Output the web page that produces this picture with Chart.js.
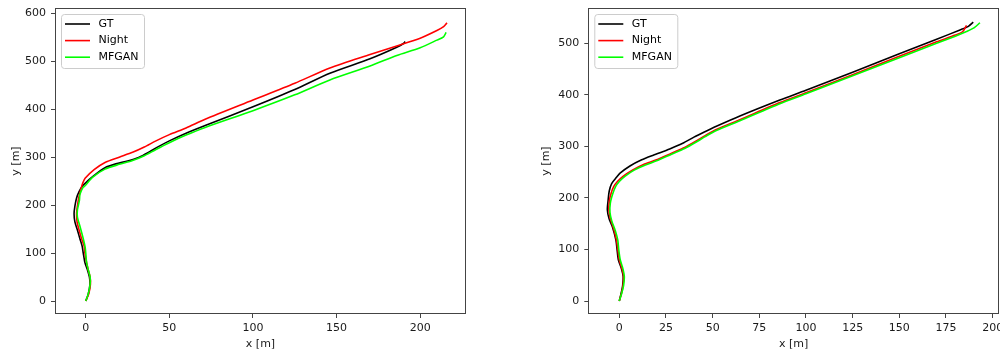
<!DOCTYPE html>
<html>
<head>
<meta charset="utf-8">
<script src="https://cdn.jsdelivr.net/npm/chart.js@4/dist/chart.umd.min.js"></script>
<style>
  body { margin: 0; background: #fff; }
  canvas { position: absolute; top: 0; }
  #left { left: 0; }
  #right { left: 500px; }
</style>
</head>
<body>
<canvas id="left" width="500" height="354"></canvas>
<canvas id="right" width="500" height="354"></canvas>
<script>
// trajectory data [x, y] in metres
var seriesNames = ["GT", "Night", "MFGAN"];
var seriesColors = ["#000000", "#ff0000", "#00ff00"];

var leftGT = [[0,0],[1.5,15],[2.5,35],[2.2,50],[1,65],[-0.5,80],[-1.5,100],[-2.2,115],[-3.5,130],[-5,148],[-6.5,165],[-7,182],[-6.5,198],[-5.5,215],[-4,228],[-2,240],[1,250],[5,262],[11.5,278],[18,286],[25,292],[32,300],[38,311],[44,323],[50,334],[60,350],[71.4,366],[100,405],[125,441],[146,475],[170,505],[186,529],[190,537],[191,541]];
var leftNight = [[0,0],[1.8,15],[2.8,35],[2.6,50],[1.5,65],[0.5,80],[-0.5,100],[-1,115],[-2.5,130],[-4,148],[-5.2,165],[-5.5,182],[-5,198],[-4.2,215],[-3,232],[-1.8,246],[-0.4,256],[5,274],[11.5,289],[20,300],[28,310],[35,321],[42,334],[50,347],[60,361],[71.4,379],[100,419],[125,454],[146,486],[170,514],[186,532],[200,548],[210,564],[214,572],[216,580]];
var leftMFGAN = [[0,0],[1.5,15],[2.6,35],[2.6,50],[1.5,65],[0.5,80],[0,100],[-0.4,113],[-1.5,130],[-3.4,155],[-5,175],[-5,190],[-3.8,210],[-3.5,222],[-1.8,236],[0,242],[4,258],[11.5,275],[20,285],[28,293],[35,303],[42,316],[50,330],[60,346],[71.4,362],[100,397],[125,430],[146,461],[170,490],[186,512],[200,528],[210,544],[214,551],[215.5,560]];

var rightGT = [[0,0],[1,15],[1.8,30],[2.1,47],[1.2,62],[-0.5,80],[-1.2,100],[-1.8,118],[-3.7,144],[-5.5,160],[-6.4,177],[-6,195],[-5.4,213],[-4.1,228],[-1.5,240],[0.4,248],[5.7,262],[12,274],[18.2,283],[27,295],[34,306],[40,318],[45,327],[52,339],[64.6,359],[86,390],[100,409],[125,444],[150,480],[170,508],[182.5,526],[187,533],[189.6,541]];
var rightNight = [[0,0],[1.2,15],[2,30],[2.3,47],[1.5,62],[0,80],[-0.8,100],[-1.5,118],[-3,140],[-4.8,160],[-5.6,177],[-5.3,195],[-4.3,210],[-3,222],[-1,232],[2,242],[7,254],[13,265],[20,274],[28,287],[35,298],[41,310],[46,321],[52,333],[64.6,352],[86,385],[100,404],[125,439],[150,475],[170,503],[180,516],[184,523],[186,535]];
var rightMFGAN = [[0,0],[1.3,15],[2.3,30],[2.7,47],[2,62],[0.5,80],[-0.3,100],[-0.8,118],[-2,135],[-4,155],[-5,172],[-4.8,190],[-3.5,208],[-2,222],[0,232],[3,242],[8,254],[14,264],[20,272],[28,285],[35,296],[41,308],[46,319],[52,331],[64.6,350],[86,383],[100,402],[125,437],[150,472],[170,500],[180,514],[186,523],[190,530],[193.2,540]];

var leftXTicks = [0, 50, 100, 150, 200];
var leftYTicks = [0, 100, 200, 300, 400, 500, 600];
var rightXTicks = [0, 25, 50, 75, 100, 125, 150, 175, 200];
var rightYTicks = [0, 100, 200, 300, 400, 500];

var FONT = "'DejaVu Sans', sans-serif";

function toPoints(arr) {
  return arr.map(function (p) { return { x: p[0], y: p[1] }; });
}

// frame around the plot area + legend box in the upper left corner
var framePlugin = {
  id: "frame",
  afterDatasetsDraw: function (chart) {
    var a = chart.chartArea, ctx = chart.ctx;
    ctx.save();
    ctx.strokeStyle = "#444";
    ctx.lineWidth = 1;
    ctx.strokeRect(Math.round(a.left) + 0.5, Math.round(a.top) + 0.5,
      Math.round(a.right - a.left) - 1, Math.round(a.bottom - a.top) - 1);
    ctx.restore();
  },
  afterDraw: function (chart) {
    var a = chart.chartArea, ctx = chart.ctx;
    var bx = a.left + 6, by = a.top + 6, bw = 83, bh = 54;
    ctx.save();
    ctx.beginPath();
    ctx.roundRect(bx + 0.5, by + 0.5, bw, bh, 3);
    ctx.fillStyle = "rgba(255,255,255,0.8)";
    ctx.fill();
    ctx.strokeStyle = "#cccccc";
    ctx.lineWidth = 1;
    ctx.stroke();
    ctx.font = "11px " + FONT;
    ctx.textBaseline = "middle";
    chart.data.datasets.forEach(function (ds, i) {
      var y = by + 10 + i * 16.6;
      ctx.strokeStyle = ds.borderColor;
      ctx.lineWidth = 1.6;
      ctx.beginPath();
      ctx.moveTo(bx + 4, y);
      ctx.lineTo(bx + 29, y);
      ctx.stroke();
      ctx.fillStyle = "#000";
      ctx.fillText(ds.label, bx + 37.5, y);
    });
    ctx.restore();
  }
};

function makeChart(id, series, xTicks, yTicks, xr, yr, padLeft, padRight, yAxisWidth) {
  var datasets = series.map(function (s, i) {
    return {
      label: seriesNames[i],
      data: toPoints(s),
      borderColor: seriesColors[i],
      backgroundColor: seriesColors[i],
      borderWidth: 1.6,
      showLine: true,
      pointRadius: 0,
      tension: 0.25,
      fill: false,
      order: 2 - i
    };
  });
  return new Chart(document.getElementById(id), {
    type: "scatter",
    data: { datasets: datasets },
    plugins: [framePlugin],
    options: {
      responsive: false,
      animation: false,
      devicePixelRatio: 1,
      layout: { padding: { left: padLeft, right: padRight, top: 8, bottom: 0 } },
      plugins: { legend: { display: false }, tooltip: { enabled: false } },
      scales: {
        x: {
          type: "linear",
          min: xr[0],
          max: xr[1],
          afterBuildTicks: function (s) { s.ticks = xTicks.map(function (v) { return { value: v }; }); },
          afterFit: function (s) { s.height = 40; s.paddingLeft = 0; s.paddingRight = 0; },
          grid: { drawOnChartArea: false, drawTicks: true, tickLength: 4, color: "#444", tickColor: "#444" },
          border: { display: false },
          ticks: { color: "#1a1a1a", font: { family: FONT, size: 11 }, padding: 4, maxRotation: 0, autoSkip: false },
          title: { display: true, text: "x [m]", color: "#1a1a1a", font: { family: FONT, size: 11 }, padding: { top: 2, bottom: 3 } }
        },
        y: {
          type: "linear",
          min: yr[0],
          max: yr[1],
          afterBuildTicks: function (s) { s.ticks = yTicks.map(function (v) { return { value: v }; }); },
          afterFit: function (s) { s.width = yAxisWidth; s.paddingTop = 0; s.paddingBottom = 0; },
          grid: { drawOnChartArea: false, drawTicks: true, tickLength: 4, color: "#444", tickColor: "#444" },
          border: { display: false },
          ticks: { color: "#1a1a1a", font: { family: FONT, size: 11 }, padding: 5, autoSkip: false },
          title: { display: true, text: "y [m]", color: "#1a1a1a", font: { family: FONT, size: 11 }, padding: { top: 9.4, bottom: 2 } }
        }
      }
    }
  });
}

makeChart("left", [leftGT, leftNight, leftMFGAN], leftXTicks, leftYTicks,
  [-18.4, 227.4], [-27, 611], 0, 34, 55);
makeChart("right", [rightGT, rightNight, rightMFGAN], rightXTicks, rightYTicks,
  [-16.6, 203.4], [-25.2, 568.6], 30, 1, 58.3);
</script>
</body>
</html>
